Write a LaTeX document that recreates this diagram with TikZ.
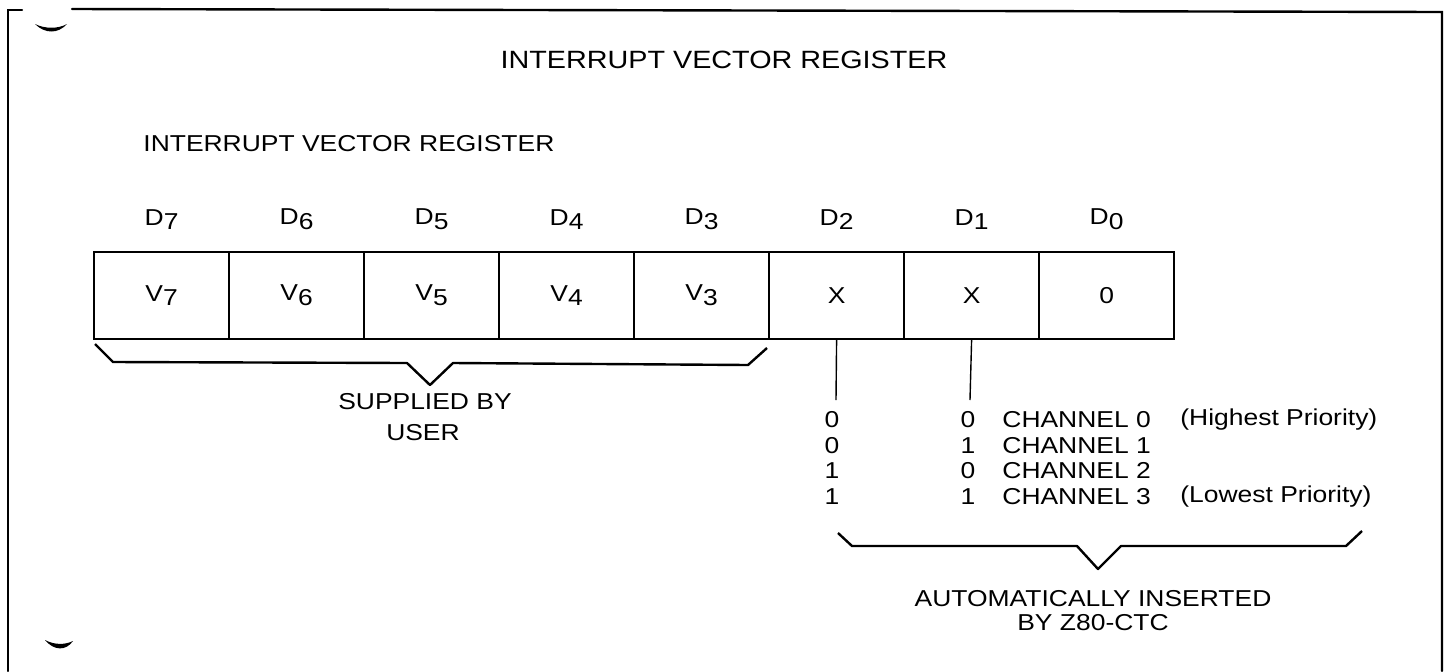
\documentclass[tikz,border=0pt]{standalone}
\usepackage{fontspec}
\setmainfont[FakeStretch=1.15]{Liberation Sans}
\newcommand\dsub[1]{\raisebox{-0.4ex}{#1}}
\begin{document}
\begin{tikzpicture}[x=0.5pt,y=-0.5pt,
  frameline/.style={line width=1.2pt, line cap=round},
  cell/.style={draw, line width=1.1pt, minimum width=67.5pt, minimum height=43.5pt, inner sep=0pt, anchor=north west},
  lbl/.style={inner sep=0pt, font=\fontsize{11.5}{13}\selectfont},
  ttl/.style={inner sep=0pt, font=\fontsize{12.5}{14}\selectfont},
  row/.style={inner sep=0pt, font=\fontsize{11.5}{13}\selectfont},
  prio/.style={inner sep=0pt, font=\fontsize{11.5}{13}\selectfont},
  brace/.style={line width=1.2pt, line join=round},
  lead/.style={line width=0.7pt},
  smilemark/.style={fill=black}]
\useasboundingbox (0,0) rectangle (1448,671);
% frame
\draw[frameline] (8,671) -- (8,10) -- (22,10);
\draw[frameline] (72,9) -- (1442,12) -- (1442,671);
\fill[smilemark] (35,24) .. controls (45,34) and (58,34) .. (67,24) .. controls (58,29) and (45,29) .. (35,24) -- cycle;
\fill[smilemark] (45,640) .. controls (54,651) and (66,651) .. (73,641) .. controls (65,645) and (54,645) .. (45,640) -- cycle;
% titles
\node[ttl] (title) at (724,60) {INTERRUPT VECTOR REGISTER};
\node[lbl, anchor=west] (subtitle) at (143,144) {INTERRUPT VECTOR REGISTER};
% register cells
\node[cell] (c7) at (93,251) {};
\node[cell] (c6) at (228,251) {};
\node[cell] (c5) at (363,251) {};
\node[cell] (c4) at (498,251) {};
\node[cell] (c3) at (633,251) {};
\node[cell] (c2) at (768,251) {};
\node[cell] (c1) at (903,251) {};
\node[cell] (c0) at (1038,251) {};
% cell contents
\node[lbl] (v7) at (c7.center) {V\dsub{7}};
\node[lbl] (v6) at (c6.center) {V\dsub{6}};
\node[lbl] (v5) at (c5.center) {V\dsub{5}};
\node[lbl] (v4) at (c4.center) {V\dsub{4}};
\node[lbl] (v3) at (c3.center) {V\dsub{3}};
\node[lbl] (x2) at (c2.center) {X};
\node[lbl] (x1) at (c1.center) {X};
\node[lbl] (z0) at (c0.center) {0};
% bit labels
\node[lbl] (d7) at ([yshift=38pt]c7.center) {D\dsub{7}};
\node[lbl] (d6) at ([yshift=38pt]c6.center) {D\dsub{6}};
\node[lbl] (d5) at ([yshift=38pt]c5.center) {D\dsub{5}};
\node[lbl] (d4) at ([yshift=38pt]c4.center) {D\dsub{4}};
\node[lbl] (d3) at ([yshift=38pt]c3.center) {D\dsub{3}};
\node[lbl] (d2) at ([yshift=38pt]c2.center) {D\dsub{2}};
\node[lbl] (d1) at ([yshift=38pt]c1.center) {D\dsub{1}};
\node[lbl] (d0) at ([yshift=38pt]c0.center) {D\dsub{0}};
% brace: supplied by user
\coordinate (b1l) at (95,344);
\coordinate (b1t) at (430,385);
\coordinate (b1r) at (767,348);
\draw[brace] (b1l) -- (113,362) -- (407,363) -- (b1t) -- (453,363) -- (748,365) -- (b1r);
\node[lbl] (sup1) at (425,402) {SUPPLIED BY};
\node[lbl] (sup2) at (423,433) {USER};
% leads from D2 and D1
\coordinate (l2) at (836,400);
\coordinate (l1) at (970,400);
\draw[lead] (c2.south) -- (l2);
\draw[lead] (c1.south) -- (l1);
% table rows
\node[row] (a0) at (832,420) {0};
\node[row] (a1) at (832,446) {0};
\node[row] (a2) at (832,471) {1};
\node[row] (a3) at (832,497) {1};
\node[row] (b0) at (968,420) {0};
\node[row] (b1) at (968,446) {1};
\node[row] (b2) at (968,471) {0};
\node[row] (b3) at (968,497) {1};
\node[row, anchor=west] (ch0) at (1002,420) {CHANNEL 0};
\node[row, anchor=west] (ch1) at (1002,446) {CHANNEL 1};
\node[row, anchor=west] (ch2) at (1002,471) {CHANNEL 2};
\node[row, anchor=west] (ch3) at (1002,497) {CHANNEL 3};
\node[prio, anchor=west] (p0) at (1180,420) {(Highest Priority)};
\node[prio, anchor=west] (p3) at (1180,497) {(Lowest Priority)};
% brace: automatically inserted
\coordinate (b2l) at (838,533);
\coordinate (b2t) at (1098,569);
\coordinate (b2r) at (1362,531);
\draw[brace] (b2l) -- (852,546) -- (1077,546) -- (b2t) -- (1121,546) -- (1346,546) -- (b2r);
\node[lbl] (auto1) at (1093,599) {AUTOMATICALLY INSERTED};
\node[lbl] (auto2) at (1093,623) {BY Z80-CTC};
\end{tikzpicture}
\end{document}
